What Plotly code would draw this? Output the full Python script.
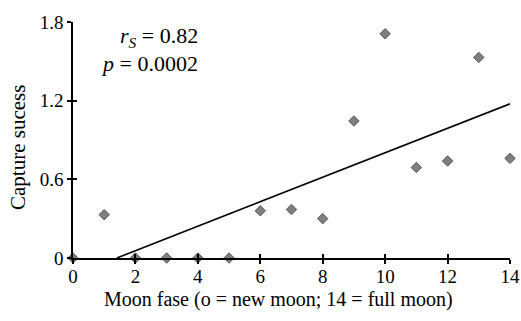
import numpy as np
import plotly.graph_objects as go

moon_phase = [0, 1, 2, 3, 4, 5, 6, 7, 8, 9, 10, 11, 12, 13, 14]
capture_success = [0, 0.33, 0, 0, 0, 0, 0.36, 0.37, 0.30, 1.045, 1.71, 0.69, 0.74, 1.53, 0.76]
x_ticks = [0, 2, 4, 6, 8, 10, 12, 14]
y_ticks = [0, 0.6, 1.2, 1.8]
y_tick_labels = ["0", "0.6", "1.2", "1.8"]

slope, intercept = np.polyfit(moon_phase, capture_success, 1)
x0 = -intercept / slope
x1 = max(moon_phase)
trend_x = [x0, x1]
trend_y = [slope * x0 + intercept, slope * x1 + intercept]

FONT = "Liberation Serif"
W, H = 521, 321
L, R, T, B = 73, 11, 22, 63
PW, PH = W - L - R, H - T - B


def px(xw):
    return (xw - L) / PW


def py(yw):
    return (T + PH - yw) / PH


fig = go.Figure()
fig.add_trace(go.Scatter(x=trend_x, y=trend_y, mode="lines",
                         line=dict(color="black", width=1.6), showlegend=False, cliponaxis=False))
fig.add_trace(go.Scatter(x=moon_phase, y=capture_success, mode="markers",
                         marker=dict(symbol="diamond", size=8, color="#7f7f7f",
                                     line=dict(color="#555555", width=1)),
                         showlegend=False, cliponaxis=False))

axis_common = dict(showgrid=False, zeroline=False, showline=True, linecolor="black", linewidth=1.5,
                   ticks="outside", ticklen=4, tickwidth=1.5, tickcolor="black", automargin=False,
                   tickfont=dict(family=FONT, size=19, color="black"))

fig.update_layout(
    width=W, height=H,
    margin=dict(l=L, r=R, t=T, b=B),
    paper_bgcolor="white", plot_bgcolor="white",
    xaxis=dict(range=[0, 14], tickvals=x_ticks, ticklabelstandoff=-4, **axis_common),
    yaxis=dict(range=[0, 1.8], tickvals=y_ticks, ticktext=y_tick_labels, **axis_common),
    xaxis2=dict(range=[0, 14], tickvals=x_ticks, overlaying="x", showticklabels=False,
                ticks="inside", ticklen=4, tickwidth=1.5, tickcolor="black", showgrid=False,
                zeroline=False, showline=False, side="bottom", anchor="y"),
    yaxis2=dict(range=[0, 1.8], tickvals=y_ticks, overlaying="y", showticklabels=False,
                ticks="inside", ticklen=4, tickwidth=1.5, tickcolor="black", showgrid=False,
                zeroline=False, showline=False, anchor="x"),
    annotations=[
        dict(text="<i>r<sub>S</sub></i> = 0.82", xref="paper", yref="paper",
             x=px(200), y=py(37),
             xanchor="right", yanchor="middle", showarrow=False,
             font=dict(family=FONT, size=22, color="black")),
        dict(text="<i>p</i> = 0.0002", xref="paper", yref="paper",
             x=px(200), y=py(64),
             xanchor="right", yanchor="middle", showarrow=False,
             font=dict(family=FONT, size=22, color="black")),
        dict(text="Moon fase (o = new moon; 14 = full moon)", xref="paper", yref="paper",
             x=px(278), y=py(299),
             xanchor="center", yanchor="middle", showarrow=False,
             font=dict(family=FONT, size=20, color="black")),
        dict(text="Capture sucess", xref="paper", yref="paper", textangle=-90,
             x=px(18), y=py(147),
             xanchor="center", yanchor="middle", showarrow=False,
             font=dict(family=FONT, size=21, color="black")),
    ],
)
fig.add_trace(go.Scatter(x=[None], y=[None], xaxis="x2", yaxis="y2", showlegend=False))

fig.write_html("out.html", config={"displayModeBar": False},
               post_script="document.body.style.margin='0';document.body.style.overflow='hidden';")
